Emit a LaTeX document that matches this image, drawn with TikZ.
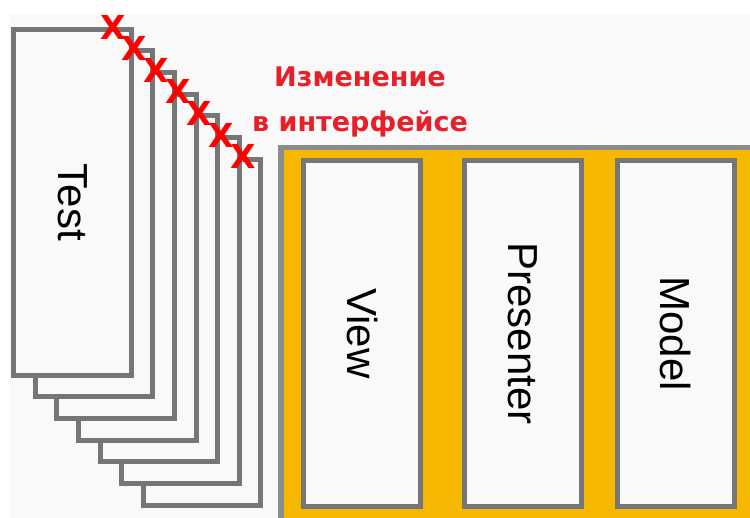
\documentclass[tikz,border=0pt]{standalone}
\usepackage{fontspec}
\setmainfont{Liberation Sans}
\newfontfamily\notefont{DejaVu Sans}
\usetikzlibrary{calc}

\definecolor{bggray}{RGB}{249,249,249}
\definecolor{edgegray}{RGB}{118,118,118}
\definecolor{framegray}{RGB}{140,140,140}
\definecolor{panelorange}{RGB}{245,183,0}
\definecolor{notered}{RGB}{232,30,40}
\definecolor{crossred}{RGB}{255,0,0}

\tikzset{
  card/.style={draw=edgegray, fill=bggray, line width=5pt, inner sep=0pt,
    outer sep=0pt, minimum width=117.4pt, minimum height=346pt},
  boxlabel/.style={rotate=-90, inner sep=0pt, font=\fontsize{42}{50}\selectfont},
  notetext/.style={text=notered, inner sep=0pt, anchor=base,
    font=\notefont\bfseries\fontsize{27}{30}\selectfont},
  crossmark/.style={text=crossred, inner sep=0pt,
    font=\notefont\bfseries\fontsize{33}{33}\selectfont}
}

\begin{document}
\begin{tikzpicture}[x=1pt, y=-1pt]
  \useasboundingbox (0,0) rectangle (750,518);
  \clip (0,0) rectangle (750,518);
  \fill[bggray] (9,14) rectangle (750,518);

  % stack of test sheets, back to front
  \foreach \i in {6,5,...,0} {
    \node[card] (t\i) at (72.35+21.65*\i, 202.25+21.65*\i) {};
  }
  \node[boxlabel] (testlabel) at (t0) {Test};

  % crossed-out corners
  \foreach \i in {0,...,6} {
    \node[crossmark] (x\i) at (113+21.65*\i, 27+21.65*\i) {X};
  }

  % note
  \node[notetext] (note1) at (360,87) {Изменение};
  \node[notetext] (note2) at (360,132) {в интерфейсе};

  % MVP panel
  \draw[fill=panelorange, draw=framegray, line width=5.5pt] (281,147.5) rectangle (820,600);
  \node[card] (view) at (362.05,333.55) {};
  \node[card] (presenter) at (522.7,333.55) {};
  \node[card] (model) at (675.85,333.55) {};
  \node[boxlabel] (viewlabel) at (view) {View};
  \node[boxlabel] (presenterlabel) at (presenter) {Presenter};
  \node[boxlabel] (modellabel) at (model) {Model};
\end{tikzpicture}
\end{document}
